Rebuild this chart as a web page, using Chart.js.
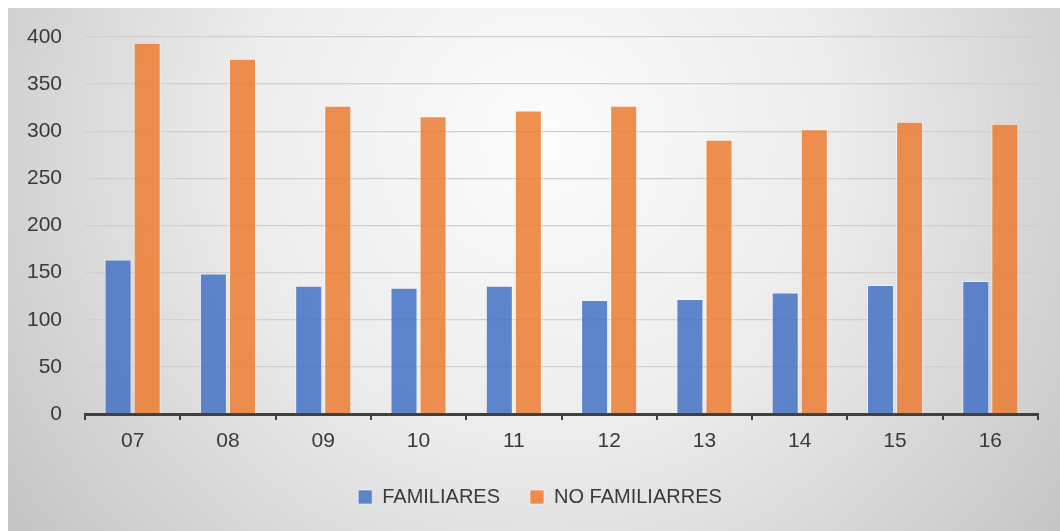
<!DOCTYPE html>
<html>
<head>
<meta charset="utf-8">
<script src="https://cdn.jsdelivr.net/npm/chart.js@4.4.1/dist/chart.umd.min.js"></script>
<style>
  html, body { margin: 0; padding: 0; background: #fff; }
  #wrap { width: 1060px; height: 531px; }
</style>
</head>
<body>
<div id="wrap"><canvas id="chart" width="1060" height="531"></canvas></div>
<script>
const categories = ['07', '08', '09', '10', '11', '12', '13', '14', '15', '16'];
const familiares = [164, 149, 136, 134, 136, 121, 122, 129, 137, 141];
const noFamiliares = [394, 377, 327, 316, 322, 327, 291, 302, 310, 308];
const yTicks = [0, 50, 100, 150, 200, 250, 300, 350, 400];

// gray radial background like the office chart frame
const background = {
  id: 'background',
  beforeDraw(chart) {
    const ctx = chart.ctx;
    const w = chart.width, h = chart.height;
    ctx.save();
    ctx.fillStyle = '#ffffff';
    ctx.fillRect(0, 0, w, h);
    const g = ctx.createRadialGradient(540, 140, 20, 540, 140, 640);
    g.addColorStop(0, '#fbfbfb');
    g.addColorStop(0.45, '#ececec');
    g.addColorStop(1, '#c6c6c6');
    ctx.fillStyle = g;
    ctx.fillRect(8, 8, w - 8, h - 8);
    ctx.restore();
  }
};

// fix legend height so the spacing between items can stay wide,
// and nudge it a little right like the original
const legendHeight = {
  id: 'legendHeight',
  beforeInit(chart) {
    const fit = chart.legend.fit;
    chart.legend.fit = function () {
      fit.bind(chart.legend)();
      this.height = 74;
    };
  },
  afterLayout(chart) {
    chart.legend.left += 17;
    chart.legend.right += 17;
  }
};

const tickFont = { family: 'Liberation Sans', size: 21 };

const ctx = document.getElementById('chart').getContext('2d');
new Chart(ctx, {
  type: 'bar',
  data: {
    labels: categories,
    datasets: [{
      label: 'FAMILIARES',
      data: familiares,
      backgroundColor: 'rgba(68, 114, 196, 0.85)',
      borderColor: 'rgba(255, 255, 255, 0.55)',
      borderWidth: 1,
      barPercentage: 0.93,
      categoryPercentage: 0.61
    }, {
      label: 'NO FAMILIARRES',
      data: noFamiliares,
      backgroundColor: 'rgba(237, 125, 49, 0.85)',
      borderColor: 'rgba(255, 255, 255, 0.55)',
      borderWidth: 1,
      barPercentage: 0.93,
      categoryPercentage: 0.61
    }]
  },
  options: {
    responsive: false,
    animation: false,
    layout: { padding: { left: 8, right: 22, top: 37, bottom: 0 } },
    plugins: {
      tooltip: { enabled: false },
      legend: {
        position: 'bottom',
        labels: {
          boxWidth: 14,
          boxHeight: 14,
          padding: 30,
          color: '#3a3a3a',
          font: { family: 'Liberation Sans', size: 20 }
        }
      }
    },
    scales: {
      x: {
        grid: {
          display: true,
          drawOnChartArea: false,
          drawTicks: true,
          tickLength: 6,
          color: '#404040',
          lineWidth: 2
        },
        border: { display: true, color: '#404040', width: 3 },
        ticks: { padding: 9, color: '#3a3a3a', font: tickFont },
        afterFit(scale) { scale.height = 43; }
      },
      y: {
        min: 0,
        max: 400,
        afterBuildTicks(scale) { scale.ticks = yTicks.map(v => ({ value: v })); },
        grid: { color: '#d0d0d0', lineWidth: 1.3, drawTicks: false },
        border: { display: false },
        ticks: { padding: 23, color: '#3a3a3a', font: tickFont },
        afterFit(scale) { scale.width = 77; }
      }
    }
  },
  plugins: [background, legendHeight]
});
</script>
</body>
</html>
